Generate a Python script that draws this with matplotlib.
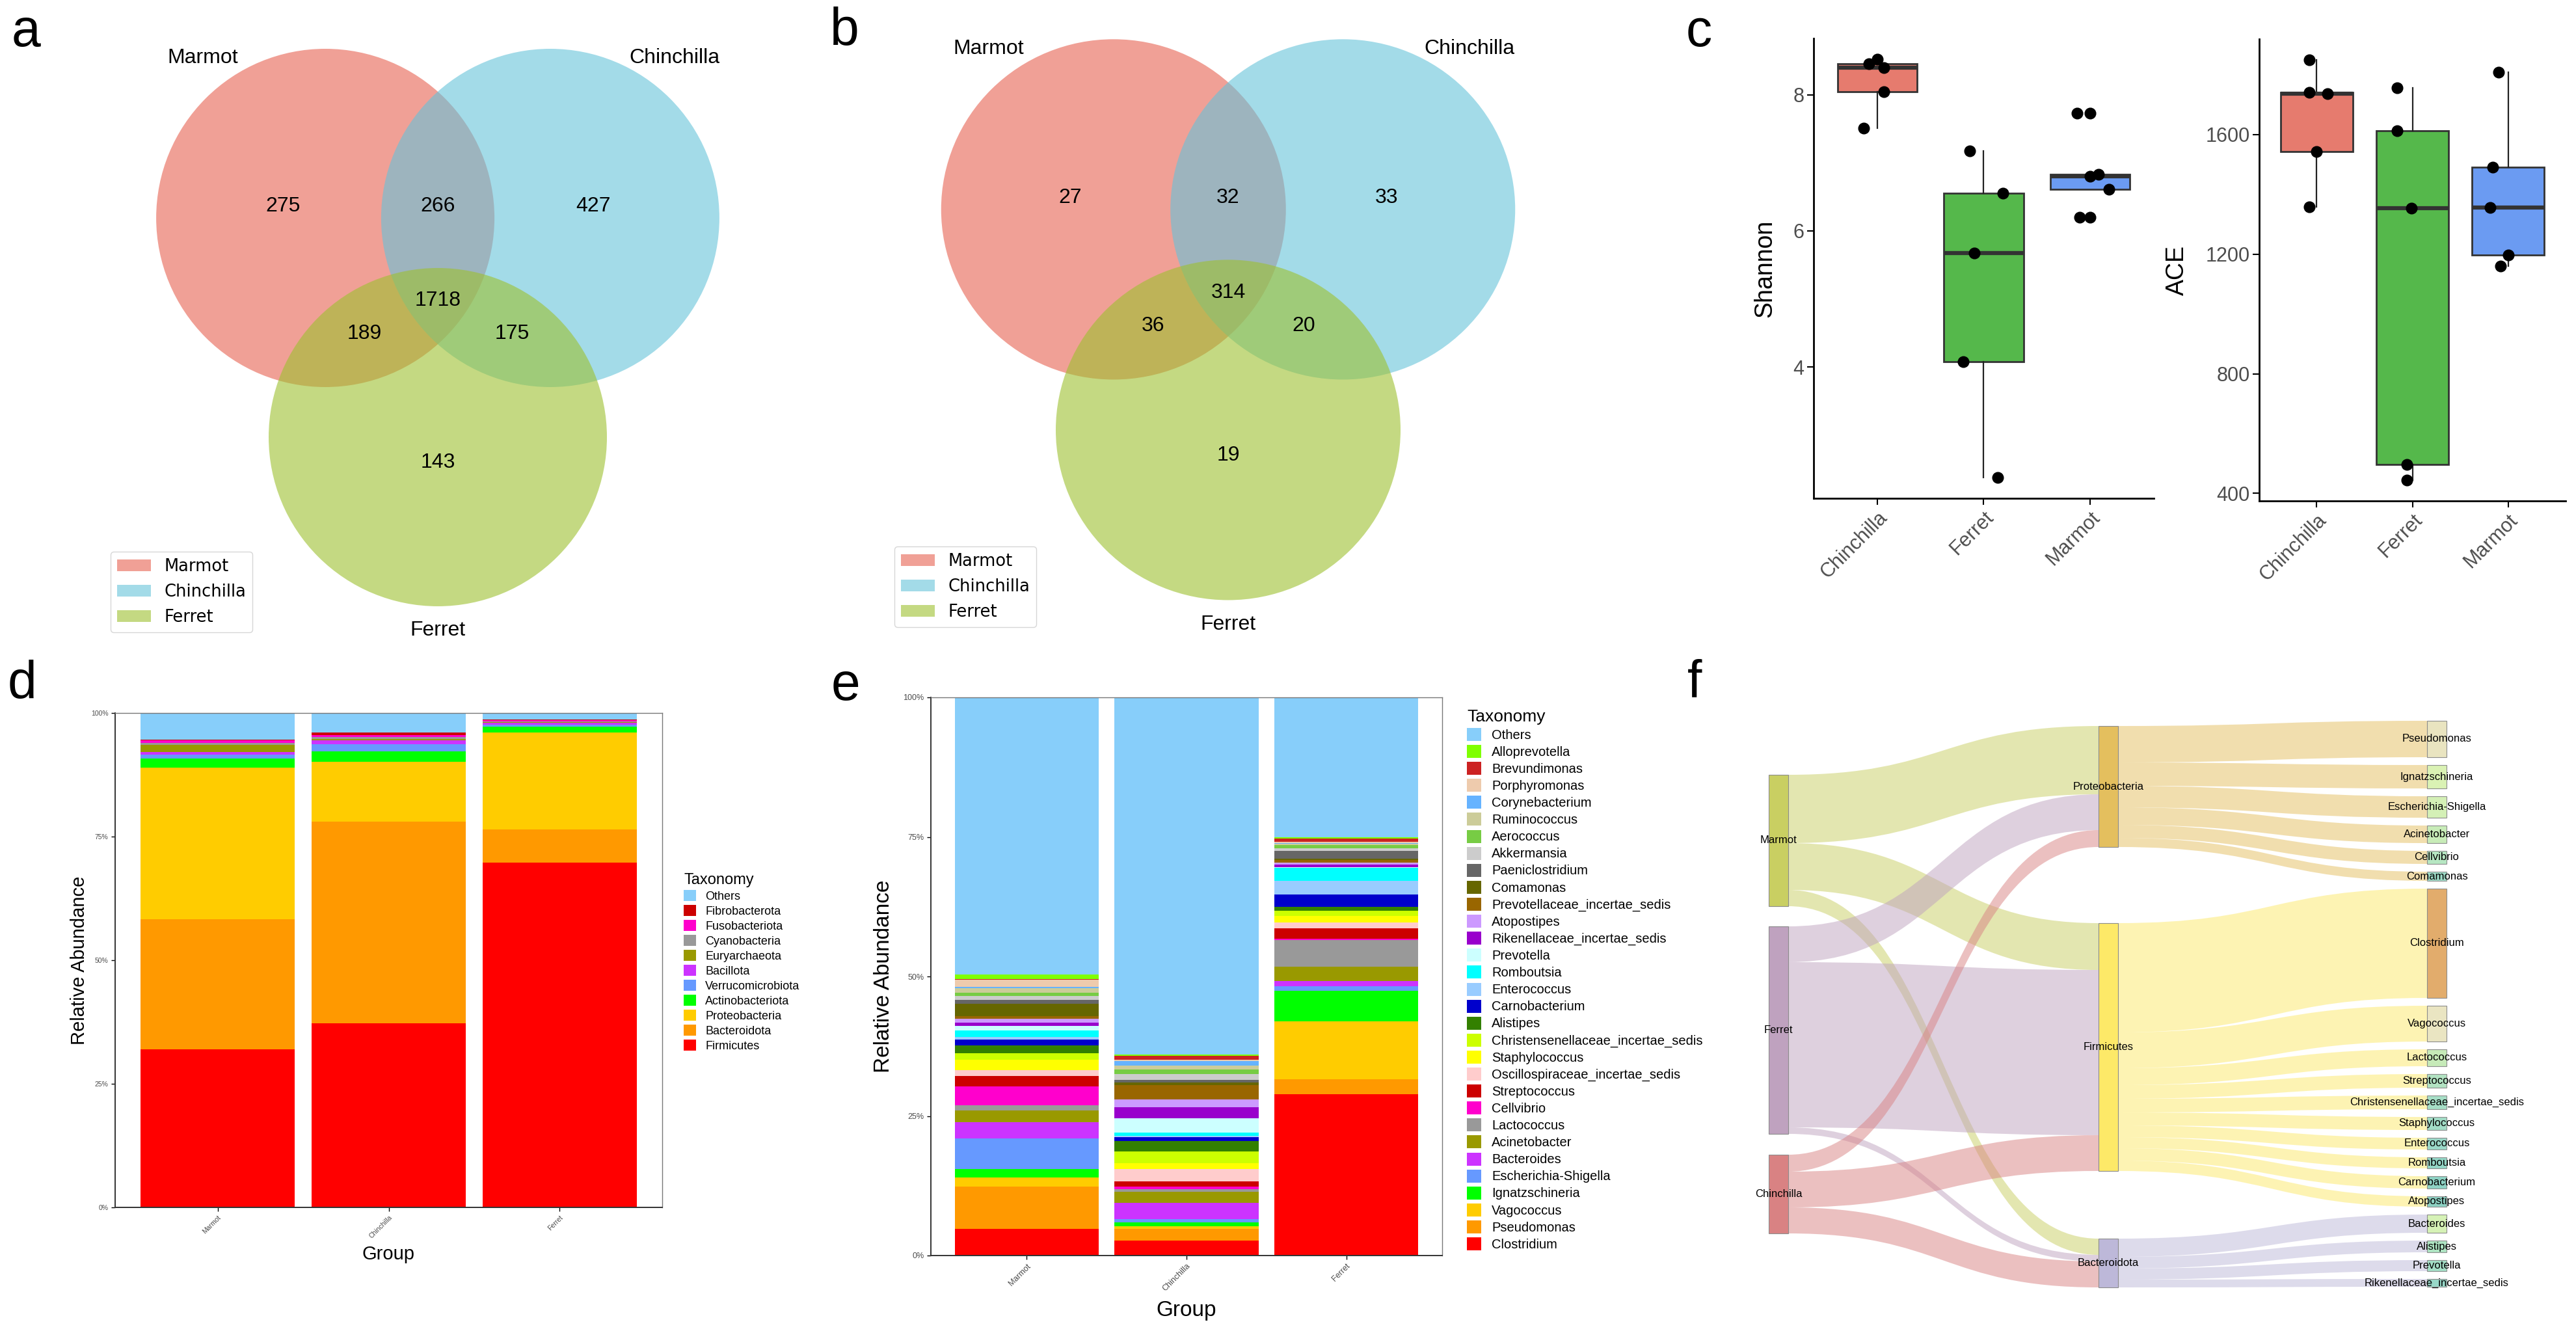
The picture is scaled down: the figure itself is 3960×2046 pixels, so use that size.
"""
Six-panel microbiome figure: Venn diagrams (a, b), alpha diversity boxplots (c),
phylum / genus stacked bars (d, e) and a sample -> phylum -> genus sankey (f).
"""
import numpy as np
import matplotlib
matplotlib.use("Agg")
import matplotlib.pyplot as plt
from matplotlib.patches import Circle, Patch, Rectangle, PathPatch
from matplotlib.path import Path

W, H = 3960, 2046
plt.rcParams["font.family"] = ["Liberation Sans", "DejaVu Sans"]
GREY = "#4D4D4D"

# ── data ──────────────────────────────────────────────────────────────────────
VENN_SETS = ["Marmot", "Chinchilla", "Ferret"]
VENN_COLORS = ["#E66150", "#66C3DA", "#9DC12F"]
# regions: M, M&C, C, M&C&F, M&F, C&F, F
VENN_A = [275, 266, 427, 1718, 189, 175, 143]
VENN_B = [27, 32, 33, 314, 36, 20, 19]

C_GROUPS = ["Chinchilla", "Ferret", "Marmot"]
C_COLORS = ["#E67B6E", "#55B84B", "#6B9BF2"]
shannon_chinchilla = [7.51, 8.45, 8.52, 8.40, 8.04]
shannon_ferret = [7.17, 6.55, 5.67, 4.08, 2.38]
shannon_marmot = [7.73, 6.80, 6.83, 6.61, 6.20]
ace_chinchilla = [1849, 1740, 1736, 1542, 1358]
ace_ferret = [1757, 1612, 1353, 497, 445]
ace_marmot = [1808, 1490, 1355, 1197, 1160]
# horizontal jitter of the points as drawn (category units)
shannon_jitter = [[-0.13, -0.08, 0.0, 0.06, 0.06],
                  [-0.13, 0.18, -0.09, -0.19, 0.13],
                  [-0.12, 0.0, 0.08, 0.175, -0.10]]
ace_jitter = [[-0.08, -0.08, 0.11, 0.0, -0.08],
              [-0.16, -0.16, -0.01, -0.06, -0.06],
              [-0.10, -0.16, -0.19, 0.0, -0.08]]

GROUPS = ["Marmot", "Chinchilla", "Ferret"]
PHYLA = ["Firmicutes", "Bacteroidota", "Proteobacteria", "Actinobacteriota",
         "Verrucomicrobiota", "Bacillota", "Euryarchaeota", "Cyanobacteria",
         "Fusobacteriota", "Fibrobacterota", "Others"]
PHYLA_COLORS = ["#FF0000", "#FF9900", "#FFCC00", "#00FF00", "#6699FF", "#CC33FF",
                "#999900", "#999999", "#FF00CC", "#CC0000", "#87CEFA"]
phylum_marmot = [32.0, 26.3, 30.6, 1.9, 0.8, 0.5, 1.5, 0.3, 0.6, 0.1, 5.4]
phylum_chinchilla = [37.2, 40.8, 12.1, 2.1, 1.5, 0.8, 0.3, 0.3, 0.4, 0.6, 3.9]
phylum_ferret = [69.7, 6.8, 19.5, 1.3, 0.3, 0.4, 0.1, 0.2, 0.2, 0.2, 1.3]

GENERA = ["Clostridium", "Pseudomonas", "Vagococcus", "Ignatzschineria",
          "Escherichia-Shigella", "Bacteroides", "Acinetobacter", "Lactococcus",
          "Cellvibrio", "Streptococcus", "Oscillospiraceae_incertae_sedis",
          "Staphylococcus", "Christensenellaceae_incertae_sedis", "Alistipes",
          "Carnobacterium", "Enterococcus", "Romboutsia", "Prevotella",
          "Rikenellaceae_incertae_sedis", "Atopostipes", "Prevotellaceae_incertae_sedis",
          "Comamonas", "Paeniclostridium", "Akkermansia", "Aerococcus", "Ruminococcus",
          "Corynebacterium", "Porphyromonas", "Brevundimonas", "Alloprevotella", "Others"]
GENERA_COLORS = ["#FF0000", "#FF9900", "#FFCC00", "#00FF00", "#6699FF", "#CC33FF",
                 "#999900", "#999999", "#FF00CC", "#CC0000", "#FFCCCC", "#FFFF00",
                 "#CCFF00", "#338000", "#0000CC", "#99CCFF", "#00FFFF", "#CCFFFF",
                 "#9900CC", "#CC99FF", "#996600", "#666600", "#666666", "#CCCCCC",
                 "#77CC44", "#CCCC99", "#66B3FF", "#EECBAD", "#CC2222", "#7FFF00",
                 "#87CEFA"]
genus_marmot = [4.74, 7.66, 1.55, 1.55, 5.47, 2.92, 2.10, 0.91, 3.37, 1.91, 1.09, 1.82,
                1.19, 1.37, 1.09, 0.46, 1.09, 0.91, 0.55, 0.73, 0.36, 2.28, 0.64, 0.73,
                0.64, 0.73, 0.27, 1.28, 0.18, 0.73, 49.68]
genus_chinchilla = [2.73, 2.10, 0.46, 0.64, 0.64, 2.92, 1.91, 0.46, 0.46, 0.91, 2.28, 1.09,
                    2.10, 1.82, 0.64, 0.27, 0.64, 2.55, 2.01, 1.37, 2.55, 0.46, 0.46, 1.09,
                    0.73, 0.73, 0.82, 0.27, 0.64, 0.27, 63.99]
genus_ferret = [28.90, 2.73, 10.30, 5.47, 0.91, 0.91, 2.55, 4.74, 0.27, 1.82, 1.09, 1.19,
                0.91, 0.64, 2.28, 2.46, 2.28, 0.18, 0.36, 0.46, 0.36, 0.27, 1.37, 0.46,
                0.64, 0.18, 0.18, 0.18, 0.64, 0.18, 25.07]

SK_SAMPLES = ["Marmot", "Ferret", "Chinchilla"]
SK_SAMPLE_COLORS = ["#C9CF62", "#BFA2BF", "#D98283"]
SK_PHYLA = ["Proteobacteria", "Firmicutes", "Bacteroidota"]
SK_PHYLA_COLORS = ["#E4BF5E", "#FDE968", "#BDB8D9"]
SK_FLOW = [[105, 72, 25],      # rows: samples, cols: phyla
           [55, 254, 10],
           [26, 55, 40]]
SK_GENERA = ["Pseudomonas", "Ignatzschineria", "Escherichia-Shigella", "Acinetobacter",
             "Cellvibrio", "Comamonas", "Clostridium", "Vagococcus", "Lactococcus",
             "Streptococcus", "Christensenellaceae_incertae_sedis", "Staphylococcus",
             "Enterococcus", "Romboutsia", "Carnobacterium", "Atopostipes",
             "Bacteroides", "Alistipes", "Prevotella", "Rikenellaceae_incertae_sedis"]
SK_GENUS_PHYLUM = [0] * 6 + [1] * 10 + [2] * 4
SK_GENUS_VALUE = [56, 36, 33, 27, 20, 14, 168, 55, 26, 21, 21, 20, 18, 17, 19, 16,
                  28, 18, 17, 12]
SK_GENUS_COLORS = ["#E9E4C0", "#DAF2B4", "#D4F0B6", "#C8ECB8", "#B6E6C2", "#9EDCC8",
                   "#E2AC6C", "#EAE5C2", "#C6EAB8", "#B2E2C2", "#A6DEC6", "#A2DCC6",
                   "#9AD8C8", "#94D6C6", "#8ED2C4", "#8CD0C2", "#D6F2B6", "#AEE4C2",
                   "#A4DEC6", "#98D8C8"]


def fbox(l, t, r, b):
    """figure-pixel box -> axes rect"""
    return [l / W, 1 - b / H, (r - l) / W, (b - t) / H]


fig = plt.figure(figsize=(W / 100, H / 100), dpi=100)


# ── a / b: Venn ───────────────────────────────────────────────────────────────
VENN_CENTERS = [(-0.665, 0.0), (0.665, 0.0), (0.0, -1.296)]
VENN_NUM_XY = [(-0.915, 0.07), (0.0, 0.07), (0.919, 0.07), (0.0, -0.488),
               (-0.435, -0.685), (0.438, -0.685), (0.0, -1.446)]
VENN_LABEL_XY = [(-1.39, 0.945), (1.40, 0.945), (0.0, -2.44)]


def venn(rect, counts, leg_xy):
    ax = fig.add_axes(rect)
    ax.set_xlim(-2, 2); ax.set_ylim(-2.6, 1.2); ax.axis("off")
    for (cx, cy), c in zip(VENN_CENTERS, VENN_COLORS):
        ax.add_patch(Circle((cx, cy), 1.0, facecolor=c, alpha=0.6, edgecolor="none"))
    for (x, y), n in zip(VENN_NUM_XY, counts):
        ax.text(x, y, str(n), ha="center", va="center", fontsize=23)
    for (x, y), s in zip(VENN_LABEL_XY, VENN_SETS):
        ax.text(x, y, s, ha="center", va="center", fontsize=23)
    hs = [Patch(facecolor=c, alpha=0.6, edgecolor="none") for c in VENN_COLORS]
    ax.legend(hs, VENN_SETS, loc="upper left", bbox_to_anchor=(leg_xy[0] / W, 1 - leg_xy[1] / H),
              bbox_transform=fig.transFigure, borderaxespad=0,
              prop={"family": "DejaVu Sans", "size": 18.5})


venn(fbox(153, 23, 1193, 1011), VENN_A, (170, 848))
venn(fbox(1358, 8, 2418, 1002), VENN_B, (1375, 840))


# ── c: alpha diversity ────────────────────────────────────────────────────────
def alpha_panel(rect, data, jitter, ylabel, yticks):
    ax = fig.add_axes(rect)
    bp = ax.boxplot(data, positions=[1, 2, 3], widths=0.75, patch_artist=True,
                    showcaps=False, whis=1.5,
                    medianprops=dict(color="#333333", lw=4.5),
                    boxprops=dict(edgecolor="#333333", lw=2),
                    whiskerprops=dict(color="#222222", lw=1.6),
                    flierprops=dict(marker="o", mfc="black", mec="black", ms=12))
    for patch, c in zip(bp["boxes"], C_COLORS):
        patch.set_facecolor(c)
    for i, (vals, jit) in enumerate(zip(data, jitter)):
        ax.plot(i + 1 + np.array(jit), vals, "o", color="black", ms=12, zorder=5)
    allv = np.concatenate(data)
    rng = allv.max() - allv.min()
    ax.set_ylim(allv.min() - 0.05 * rng, allv.max() + 0.05 * rng)
    ax.set_xlim(0.4, 3.6)
    ax.set_yticks(yticks)
    ax.set_xticks([1, 2, 3], C_GROUPS, rotation=45, ha="right", rotation_mode="anchor")
    ax.tick_params(labelsize=22, labelcolor=GREY, width=1.5, length=7)
    ax.set_ylabel(ylabel, fontsize=27, labelpad=18)
    for s in ("top", "right"):
        ax.spines[s].set_visible(False)
    for s in ("left", "bottom"):
        ax.spines[s].set_linewidth(2)
    return ax


alpha_panel(fbox(2788, 59, 3311, 766), [shannon_chinchilla, shannon_ferret, shannon_marmot],
            shannon_jitter, "Shannon", [4, 6, 8])
alpha_panel(fbox(3473, 60, 3944, 770), [ace_chinchilla, ace_ferret, ace_marmot],
            ace_jitter, "ACE", [400, 800, 1200, 1600])


# ── d / e: stacked relative abundance ────────────────────────────────────────
def stacked(rect, taxa, colors, rows, tick_fs, lab_fs, leg, ylab_pad, xlab_pad):
    ax = fig.add_axes(rect)
    mat = np.array(rows)
    bottom = np.zeros(len(GROUPS))
    x = np.arange(1, len(GROUPS) + 1)
    bars = []
    for j, (t, c) in enumerate(zip(taxa, colors)):
        bars.append(ax.bar(x, mat[:, j], bottom=bottom, width=0.9, color=c, label=t))
        bottom += mat[:, j]
    ax.set_xlim(0.4, 3.6); ax.set_ylim(0, 100)
    ax.set_yticks([0, 25, 50, 75, 100], ["0%", "25%", "50%", "75%", "100%"])
    ax.set_xticks(x, GROUPS, rotation=45, ha="right", rotation_mode="anchor")
    ax.tick_params(labelsize=tick_fs, labelcolor=GREY, length=4, width=1)
    ax.set_ylabel("Relative Abundance", fontsize=lab_fs, labelpad=ylab_pad)
    ax.set_xlabel("Group", fontsize=lab_fs, labelpad=xlab_pad)
    for s in ("left", "bottom"):
        ax.spines[s].set_color("#333333"); ax.spines[s].set_linewidth(1.4)
    for s in ("top", "right"):
        ax.spines[s].set_color("#777777"); ax.spines[s].set_linewidth(1.0)
    fs, tfs, hl, hh, ls, (lx, ly) = leg
    ax.legend([b[0] for b in bars[::-1]], taxa[::-1], title="Taxonomy", loc="upper left",
              bbox_to_anchor=(lx / W, 1 - ly / H), bbox_transform=fig.transFigure,
              frameon=False, fontsize=fs, title_fontsize=tfs, handlelength=hl,
              handleheight=hh, labelspacing=ls, handletextpad=0.8, borderpad=0,
              borderaxespad=0, alignment="left")
    return ax


stacked(fbox(177, 1096, 1018, 1856), PHYLA, PHYLA_COLORS,
        [phylum_marmot, phylum_chinchilla, phylum_ferret], 7.5, 21,
        (13, 17, 1.05, 1.1, 0.23, (1051, 1342)), 3, 6)
stacked(fbox(1431, 1072, 2217, 1930), GENERA, GENERA_COLORS,
        [genus_marmot, genus_chinchilla, genus_ferret], 9, 24,
        (14.5, 19, 1.1, 1.15, 0.26, (2255, 1090)), 10, 8)


# ── f: sankey ─────────────────────────────────────────────────────────────────
SK_COL_X = [19, 526, 1031]
SK_NODE_W = 30
SK_TOPS = [91, 16, 8]
SK_GAPS = [[31, 32], [117, 104], [12] * 19]


def stack_nodes(values, top, gaps):
    out, y = [], top
    for k, v in enumerate(values):
        out.append([y, y + v])
        y += v + (gaps[k] if k < len(gaps) else 0)
    return out


def ribbon(ax, x0, x1, s0, s1, t0, t1, color):
    xm = (x0 + x1) / 2
    verts = [(x0, s0), (xm, s0), (xm, t0), (x1, t0), (x1, t1), (xm, t1), (xm, s1), (x0, s1), (x0, s0)]
    codes = [Path.MOVETO, Path.CURVE4, Path.CURVE4, Path.CURVE4, Path.LINETO,
             Path.CURVE4, Path.CURVE4, Path.CURVE4, Path.CLOSEPOLY]
    ax.add_patch(PathPatch(Path(verts, codes), facecolor=color, alpha=0.5,
                           edgecolor="none", zorder=1))


axf = fig.add_axes(fbox(2700, 1100, 3800, 1990))
axf.set_xlim(0, 1100); axf.set_ylim(890, 0); axf.axis("off")

flow = np.array(SK_FLOW)
left = stack_nodes(flow.sum(axis=1), SK_TOPS[0], SK_GAPS[0])
mid = stack_nodes(flow.sum(axis=0), SK_TOPS[1], SK_GAPS[1])
right = stack_nodes(SK_GENUS_VALUE, SK_TOPS[2], SK_GAPS[2])

# sample -> phylum
src_off = [n[0] for n in left]
dst_off = [n[0] for n in mid]
for i in range(len(SK_SAMPLES)):
    for j in range(len(SK_PHYLA)):
        v = flow[i, j]
        ribbon(axf, SK_COL_X[0] + SK_NODE_W, SK_COL_X[1], src_off[i], src_off[i] + v,
               dst_off[j], dst_off[j] + v, SK_SAMPLE_COLORS[i])
        src_off[i] += v
        dst_off[j] += v
# phylum -> genus
src_off = [n[0] for n in mid]
for k, (p, v) in enumerate(zip(SK_GENUS_PHYLUM, SK_GENUS_VALUE)):
    ribbon(axf, SK_COL_X[1] + SK_NODE_W, SK_COL_X[2], src_off[p], src_off[p] + v,
           right[k][0], right[k][1], SK_PHYLA_COLORS[p])
    src_off[p] += v

for col, nodes, names, cols in ((0, left, SK_SAMPLES, SK_SAMPLE_COLORS),
                                (1, mid, SK_PHYLA, SK_PHYLA_COLORS),
                                (2, right, SK_GENERA, SK_GENUS_COLORS)):
    for (y0, y1), name, c in zip(nodes, names, cols):
        axf.add_patch(Rectangle((SK_COL_X[col], y0), SK_NODE_W, y1 - y0, facecolor=c,
                                edgecolor="#8C8C8C", lw=0.8, zorder=2))
        axf.text(SK_COL_X[col] + SK_NODE_W / 2, (y0 + y1) / 2, name, ha="center",
                 va="center", fontsize=12, zorder=3)


# ── panel letters ─────────────────────────────────────────────────────────────
for s, (x, y) in zip("abcdef", [(40, 50), (1298, 48), (2612, 50), (34, 1052),
                                (1300, 1055), (2605, 1050)]):
    fig.text(x / W, 1 - y / H, s, fontsize=58, ha="center", va="center")

fig.savefig("out.png", dpi=100, facecolor="white")
